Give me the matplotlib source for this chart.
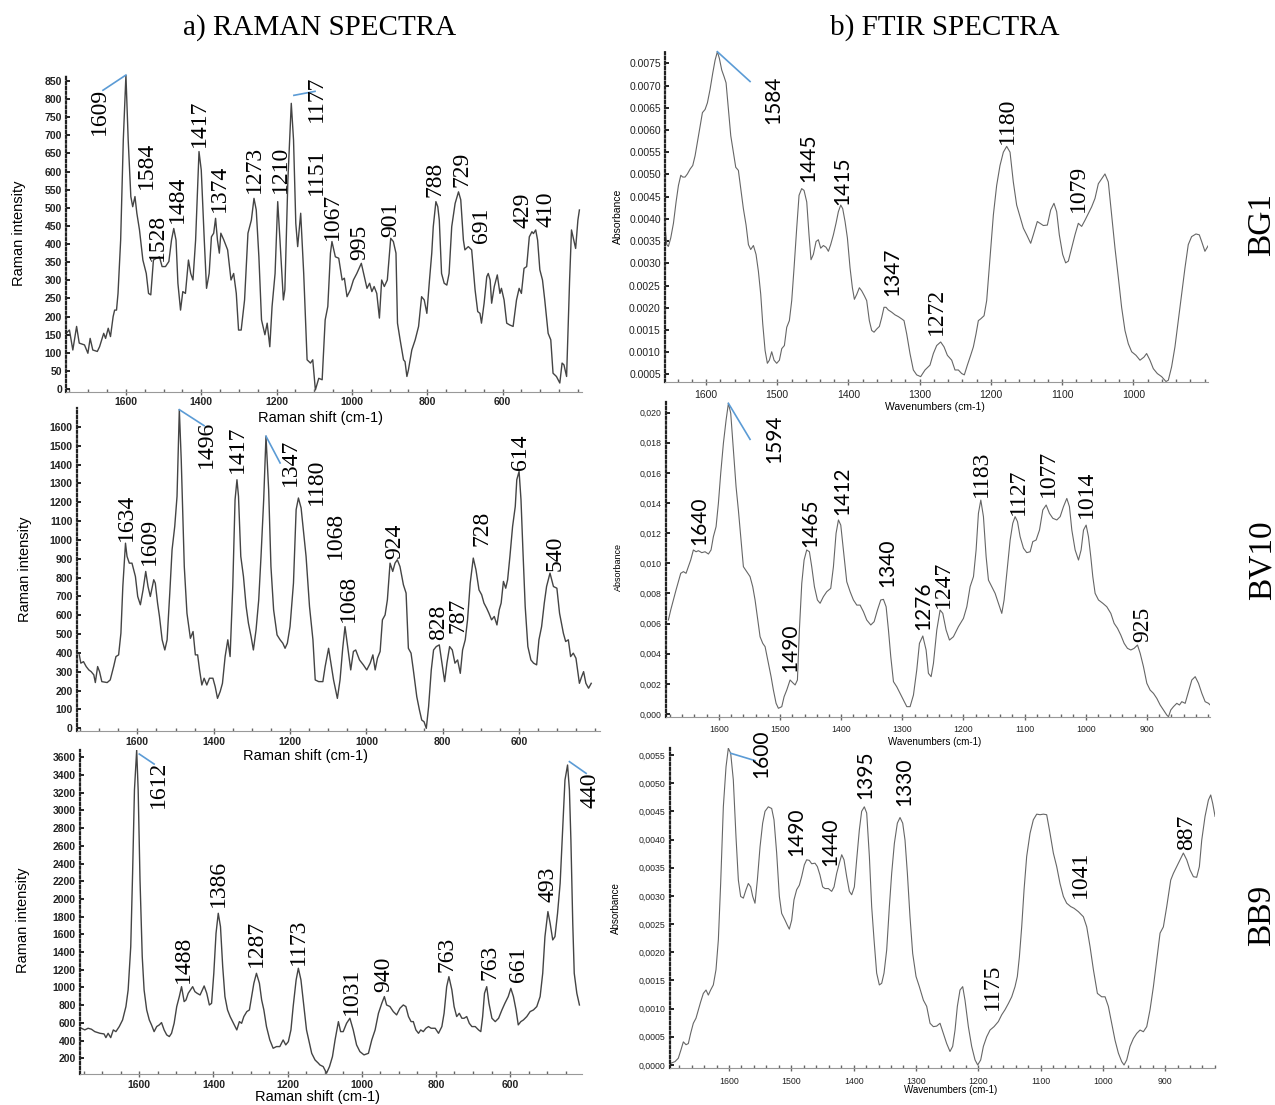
import matplotlib
matplotlib.use("Agg")
import matplotlib.pyplot as plt
from matplotlib.ticker import FixedLocator, MultipleLocator, FuncFormatter

# ---- Raman BG1 : (shift cm-1, intensity)
raman_bg1 = [(1759,154),(1750,163),(1741,108),(1731,173),(1724,127),(1710,122),(1701,99),(1695,140),(1688,108),(1676,104),
    (1670,117),(1659,154),(1654,140),(1647,168),(1641,145),(1634,200),(1630,218),(1625,218),(1621,264),(1614,411),
    (1607,687),(1600,866),(1594,687),(1587,531),(1582,503),(1576,531),(1571,485),(1564,439),(1555,356),(1546,319),
    (1540,264),(1534,260),(1527,356),(1519,361),(1511,365),(1504,338),(1495,338),(1486,352),(1479,411),(1473,443),
    (1467,411),(1462,292),(1455,218),(1449,269),(1442,264),(1434,356),(1428,319),(1422,301),(1415,411),(1406,655),
    (1400,604),(1392,411),(1386,278),(1379,319),(1373,420),(1367,430),(1362,471),(1357,411),(1352,375),(1348,430),
    (1340,411),(1330,384),(1321,301),(1314,319),(1307,264),(1301,163),(1294,163),(1285,246),(1276,430),(1267,466),
    (1260,526),(1254,494),(1247,365),(1240,191),(1231,150),(1225,182),(1218,117),(1212,228),(1204,319),(1197,517),
    (1191,411),(1182,246),(1178,274),(1170,577),(1161,788),(1155,687),(1149,457),(1144,393),(1136,485),(1128,319),
    (1119,81),(1110,72),(1104,81),(1097,-2),(1088,30),(1079,26),(1071,191),(1064,228),(1057,375),(1053,407),
    (1044,365),(1035,361),(1026,301),(1020,306),(1013,255),(1004,274),(996,301),(987,319),(975,347),(967,310),
    (960,278),(953,292),(947,269),(941,283),(934,264),(927,196),(921,301),(914,283),(906,301),(897,416),
    (890,407),(883,375),(879,182),(872,136),(863,81),(859,76),(854,35),(850,53),(841,108),(832,136),
    (823,173),(815,255),(808,246),(801,209),(794,301),(788,375),(784,448),(777,517),(772,503),(768,466),
    (762,319),(755,292),(748,287),(742,319),(735,448),(726,512),(717,544),(711,522),(704,411),(700,384),
    (691,393),(682,384),(673,274),(666,214),(660,209),(656,182),(649,237),(642,310),(638,319),(633,301),
    (629,237),(622,283),(614,315),(607,264),(603,278),(596,246),(589,182),(581,177),(572,173),(563,246),
    (556,278),(550,264),(543,333),(536,338),(529,420),(522,434),(518,429),(512,439),(507,411),(501,329),
    (494,301),(488,246),(479,154),(472,136),(466,44),(457,35),(448,17),(442,72),(437,67),(430,35),
    (422,301),(417,439),(411,411),(406,388),(400,466),(396,494)]
raman_bg1_peaks = [("1609",1670,700),("1584",1545,553),("1528",1516,352),("1484",1464,457),("1417",1406,668),
    ("1374",1352,489),("1273",1258,540),("1210",1191,540),("1177",1093,737),("1151",1093,535),("1067",1053,411),
    ("995",978,356),("901",897,420),("788",779,531),("729",709,558),("691",656,402),("429",545,443),("410",485,448)]
raman_bg1_leaders = [((1600,866),(1661,824)), ((1154,810),(1098,821))]

# ---- Raman BV10
raman_bv10 = [(1752,390),(1748,346),(1741,354),(1734,328),(1727,310),(1721,301),(1714,284),(1710,243),(1704,328),(1699,301),
    (1693,248),(1679,243),(1671,257),(1662,328),(1656,381),(1649,390),(1643,505),(1638,753),(1631,983),(1627,913),
    (1621,877),(1614,877),(1605,806),(1599,700),(1592,656),(1585,735),(1578,833),(1572,753),(1566,700),(1557,789),
    (1553,771),(1547,665),(1542,594),(1535,470),(1528,416),(1522,470),(1515,718),(1509,948),(1502,1072),(1496,1232),
    (1490,1692),(1485,1427),(1477,859),(1470,611),(1461,478),(1454,514),(1448,390),(1442,390),(1437,310),(1431,230),
    (1425,266),(1418,230),(1411,266),(1402,266),(1396,221),(1390,159),(1383,195),(1377,239),(1370,381),(1363,470),
    (1357,381),(1350,753),(1344,1214),(1339,1320),(1335,1232),(1329,913),(1322,806),(1315,647),(1309,558),(1302,487),
    (1296,416),(1289,523),(1282,682),(1276,913),(1269,1214),(1263,1551),(1256,1267),(1250,859),(1243,629),(1234,496),
    (1226,470),(1219,452),(1213,425),(1207,452),(1200,540),(1191,771),(1184,1161),(1178,1223),(1171,1170),(1158,913),
    (1149,647),(1140,470),(1134,257),(1125,248),(1114,248),(1108,328),(1099,425),(1093,346),(1086,257),(1076,159),
    (1069,257),(1062,425),(1056,540),(1049,434),(1041,310),(1034,408),(1028,416),(1018,363),(1008,337),(999,310),
    (990,346),(983,390),(977,310),(971,372),(964,408),(958,576),(951,602),(945,682),(938,877),(931,833),
    (925,877),(919,895),(912,859),(903,762),(896,718),(890,425),(883,399),(877,310),(868,168),(861,97),
    (855,44),(849,35),(843,0),(837,115),(830,310),(824,416),(817,434),(809,443),(802,346),(795,248),
    (789,346),(782,434),(775,416),(768,346),(761,363),(754,292),(748,416),(741,470),(735,576),(728,771),
    (720,904),(713,842),(705,735),(698,709),(692,665),(685,638),(679,611),(672,576),(665,594),(658,549),
    (652,629),(647,665),(641,780),(635,744),(630,789),(624,913),(617,1072),(610,1178),(606,1320),(600,1364),
    (595,1214),(590,948),(584,647),(577,434),(569,363),(562,346),(554,337),(548,470),(541,540),(534,665),
    (528,753),(519,824),(510,753),(501,744),(494,611),(484,505),(478,461),(471,470),(465,381),(458,399),
    (451,372),(442,239),(436,275),(431,301),(425,239),(418,213),(411,239)]
raman_bv10_peaks = [("1634",1629,992),("1609",1569,868),("1496",1420,1382),("1417",1339,1356),("1347",1199,1288),
    ("1180",1130,1187),("1068",1082,898),("1068",1047,567),("924",925,898),("828",810,470),("787",761,505),
    ("728",698,966),("614",597,1373),("540",506,833)]
raman_bv10_leaders = [((1490,1692),(1425,1607)), ((1263,1551),(1226,1409))]

# ---- Raman BB9
raman_bb9 = [(1756,539),(1747,520),(1738,539),(1729,528),(1720,501),(1706,482),(1695,475),(1690,433),(1684,482),(1677,433),
    (1670,520),(1663,501),(1654,558),(1645,633),(1636,784),(1630,972),(1623,1461),(1618,2290),(1613,3231),(1607,3683),
    (1603,3231),(1598,2214),(1592,1348),(1587,972),(1580,746),(1573,633),(1567,577),(1560,501),(1553,558),(1546,577),
    (1540,603),(1533,520),(1526,464),(1519,445),(1513,482),(1506,595),(1499,784),(1492,897),(1486,1009),(1479,840),
    (1474,859),(1468,934),(1462,972),(1456,1009),(1450,953),(1444,934),(1436,915),(1430,972),(1425,1017),(1418,934),
    (1411,802),(1405,821),(1399,1160),(1393,1612),(1387,1838),(1381,1687),(1375,1235),(1369,897),(1362,746),(1355,671),
    (1346,595),(1337,520),(1330,614),(1324,595),(1318,671),(1310,727),(1303,746),(1297,897),(1291,1047),(1284,1160),
    (1276,1047),(1270,859),(1264,746),(1257,558),(1248,407),(1239,313),(1230,332),(1221,332),(1212,407),(1205,351),
    (1198,388),(1191,520),(1185,784),(1177,1085),(1171,1217),(1164,1085),(1156,784),(1149,520),(1141,369),(1135,256),
    (1126,181),(1117,144),(1113,125),(1104,106),(1095,31),(1087,106),(1079,219),(1072,407),(1063,614),(1057,501),
    (1050,501),(1041,595),(1032,652),(1023,520),(1014,351),(1005,275),(994,238),(982,256),(973,407),(964,520),
    (955,708),(946,821),(939,897),(933,802),(924,784),(915,727),(906,690),(897,765),(888,802),(881,784),
    (874,671),(867,614),(861,614),(854,520),(847,482),(841,520),(834,501),(827,539),(820,558),(813,539),
    (802,539),(793,482),(784,558),(778,708),(771,1009),(765,1122),(757,972),(751,784),(744,671),(737,708),
    (730,652),(724,652),(717,671),(710,595),(703,558),(694,558),(685,520),(679,501),(674,671),(669,934),
    (663,1009),(657,821),(649,652),(640,614),(631,652),(622,746),(614,821),(605,897),(598,990),(591,897),
    (584,746),(578,577),(571,614),(564,633),(555,671),(546,727),(537,746),(528,784),(519,897),(512,1160),
    (506,1574),(498,1857),(492,1725),(485,1537),(479,1574),(472,1838),(465,2177),(458,2817),(452,3344),(445,3513),
    (440,3231),(436,2666),(431,1725),(427,1160),(420,934),(413,802)]
raman_bb9_peaks = [("1612",1549,3024),("1488",1481,1047),("1386",1387,1913),("1287",1283,1235),("1173",1171,1254),
    ("1031",1027,689),("940",942,953),("763",769,1179),("763",654,1085),("661",577,1066),("493",497,1970),
    ("440",384,3024)]
raman_bb9_leaders = [((1600,3637),(1560,3524)), ((440,3551),(395,3419))]

# ---- FTIR BG1 : (wavenumber, absorbance)
ftir_bg1 = [(1657.5,0.00379),(1655.2,0.00342),(1652.9,0.00338),(1649.6,0.00357),(1645.8,0.00390),(1642.1,0.00438),
    (1638.8,0.00475),(1635.5,0.00498),(1632.7,0.00494),(1629.5,0.00494),(1626.2,0.00501),(1622.4,0.00512),
    (1618.7,0.00520),(1615.4,0.00542),(1612.2,0.00572),(1608.4,0.00609),(1605.1,0.00639),(1601.4,0.00646),
    (1598.1,0.00661),(1594.4,0.00691),(1590.6,0.00728),(1587.3,0.00757),(1584.1,0.00776),(1581.3,0.00761),
    (1578.0,0.00735),(1574.7,0.00720),(1571.9,0.00706),(1568.6,0.00646),(1565.3,0.00587),(1561.6,0.00550),
    (1558.3,0.00516),(1554.6,0.00509),(1551.3,0.00468),(1547.6,0.00423),(1543.8,0.00386),(1540.5,0.00342),
    (1537.3,0.00331),(1533.5,0.00340),(1529.8,0.00320),(1526.5,0.00282),(1523.2,0.00230),(1520.4,0.00164),
    (1517.1,0.00104),(1513.9,0.00075),(1511.1,0.00082),(1507.8,0.00101),(1504.5,0.00082),(1500.8,0.00075),
    (1497.0,0.00082),(1493.7,0.00108),(1490.0,0.00115),(1486.7,0.00156),(1483.0,0.00171),(1479.7,0.00216),
    (1476.4,0.00290),(1472.7,0.00379),(1469.4,0.00453),(1465.7,0.00468),(1462.4,0.00464),(1458.6,0.00438),
    (1455.4,0.00364),(1452.6,0.00308),(1449.3,0.00320),(1445.5,0.00349),(1442.3,0.00353),(1439.0,0.00334),
    (1435.2,0.00340),(1431.5,0.00336),(1428.2,0.00327),(1425.0,0.00342),(1421.2,0.00364),(1417.5,0.00390),
    (1414.2,0.00416),(1410.9,0.00431),(1408.1,0.00423),(1404.8,0.00394),(1401.5,0.00357),(1397.8,0.00290),
    (1394.5,0.00245),(1391.7,0.00219),(1388.4,0.00230),(1384.7,0.00245),(1381.4,0.00238),(1377.7,0.00227),
    (1374.4,0.00216),(1370.7,0.00171),(1367.4,0.00149),(1364.1,0.00145),(1360.4,0.00152),(1356.6,0.00158),
    (1353.3,0.00178),(1350.1,0.00201),(1347.3,0.00201),(1344.0,0.00195),(1339.3,0.00190),(1334.6,0.00184),
    (1329.9,0.00180),(1325.3,0.00175),(1322.0,0.00171),(1318.2,0.00141),(1313.6,0.00097),(1308.9,0.00060),
    (1304.2,0.00049),(1298.6,0.00045),(1292.5,0.00060),(1285.5,0.00071),(1280.8,0.00097),(1276.1,0.00115),
    (1270.5,0.00123),(1265.8,0.00112),(1261.1,0.00093),(1255.0,0.00082),(1250.4,0.00060),(1245.7,0.00060),
    (1241.0,0.00052),(1237.3,0.00049),(1233.0,0.00071),(1228.4,0.00093),(1224.6,0.00112),(1220.9,0.00141),
    (1217.6,0.00171),(1214.3,0.00175),(1209.6,0.00182),(1205.9,0.00216),(1201.2,0.00312),(1196.5,0.00409),
    (1191.9,0.00475),(1187.2,0.00520),(1182.5,0.00550),(1177.8,0.00563),(1173.1,0.00550),(1168.5,0.00483),
    (1163.8,0.00431),(1159.1,0.00405),(1154.4,0.00379),(1149.7,0.00364),(1144.1,0.00345),(1140.4,0.00364),
    (1134.8,0.00394),(1131.0,0.00390),(1126.3,0.00385),(1120.7,0.00386),(1116.0,0.00420),(1111.4,0.00435),
    (1107.6,0.00416),(1103.9,0.00364),(1099.2,0.00320),(1095.0,0.00301),(1091.2,0.00305),(1086.6,0.00334),
    (1081.9,0.00364),(1077.2,0.00390),(1072.5,0.00383),(1067.8,0.00397),(1063.2,0.00412),(1058.5,0.00427),
    (1053.8,0.00446),(1049.1,0.00479),(1044.4,0.00490),(1039.8,0.00501),(1035.1,0.00483),(1030.4,0.00409),
    (1025.7,0.00334),(1021.0,0.00268),(1016.4,0.00201),(1011.7,0.00149),(1007.0,0.00119),(1002.3,0.00101),
    (996.2,0.00093),(990.6,0.00082),(985.0,0.00089),(981.3,0.00097),(976.6,0.00082),(971.9,0.00063),
    (966.3,0.00052),(960.2,0.00045),(954.1,0.00034),(950.8,0.00037),(946.2,0.00067),(941.5,0.00112),
    (936.8,0.00171),(932.1,0.00230),(927.4,0.00290),(922.8,0.00342),(918.1,0.00360),(912.0,0.00366),
    (907.3,0.00364),(904.0,0.00349),(899.4,0.00327),(894.7,0.00340)]
ftir_bg1_sans = [("1584",1505.4,0.00613),("1445",1456.3,0.00483),("1415",1408.1,0.00431),("1347",1337.9,0.00227)]
ftir_bg1_serif = [("1272",1276,0.00138),("1180",1176.9,0.00568),("1079",1077.2,0.00416)]
ftir_bg1_leaders = [((1584.1,0.00776),(1538.2,0.00709))]

# ---- FTIR BV10
ftir_bv10 = [(1682.7,0.00624),(1678.9,0.00690),(1674.5,0.00757),(1670.2,0.00823),(1666.3,0.00878),(1662.5,0.00934),
    (1658.1,0.00945),(1653.8,0.00934),(1650.0,0.00978),(1646.2,0.01022),(1641.8,0.01089),(1637.4,0.01077),
    (1633.6,0.01084),(1628.1,0.01071),(1622.7,0.01077),(1617.2,0.01062),(1612.9,0.01089),(1609.1,0.01177),
    (1604.7,0.01243),(1600.9,0.01398),(1597.1,0.01597),(1592.7,0.01797),(1588.3,0.01951),(1584.5,0.02062),
    (1580.7,0.01996),(1576.3,0.01752),(1572.0,0.01509),(1568.2,0.01354),(1564.3,0.01177),(1560.0,0.00978),
    (1554.5,0.00945),(1549.1,0.00912),(1544.7,0.00845),(1540.9,0.00757),(1537.1,0.00646),(1532.7,0.00513),
    (1528.3,0.00469),(1524.5,0.00447),(1519.1,0.00336),(1514.7,0.00248),(1510.9,0.00159),(1506.5,0.00071),
    (1502.7,0.00038),(1497.2,0.00049),(1493.4,0.00115),(1489.1,0.00159),(1483.6,0.00226),(1479.3,0.00208),
    (1475.4,0.00193),(1471.6,0.00226),(1468.4,0.00558),(1464.5,0.00867),(1460.7,0.01022),(1456.4,0.01089),
    (1452.0,0.01077),(1448.2,0.00978),(1443.8,0.00845),(1438.9,0.00757),(1434.5,0.00735),(1429.1,0.00779),
    (1423.6,0.00812),(1417.1,0.00834),(1412.7,0.00978),(1408.4,0.01199),(1404.5,0.01288),(1400.7,0.01254),
    (1396.4,0.01089),(1390.9,0.00878),(1385.4,0.00812),(1380.0,0.00757),(1374.5,0.00723),(1369.1,0.00723),
    (1363.6,0.00679),(1358.2,0.00624),(1351.6,0.00591),(1346.1,0.00613),(1340.7,0.00690),(1335.3,0.00757),
    (1330.9,0.00761),(1326.5,0.00712),(1322.7,0.00558),(1318.9,0.00381),(1314.5,0.00215),(1309.1,0.00181),
    (1303.6,0.00137),(1298.2,0.00093),(1292.7,0.00049),(1287.3,0.00049),(1281.8,0.00126),(1276.4,0.00292),
    (1272.0,0.00469),(1266.5,0.00518),(1261.1,0.00425),(1257.3,0.00270),(1252.9,0.00248),(1249.1,0.00336),
    (1243.6,0.00558),(1238.2,0.00690),(1233.8,0.00668),(1228.4,0.00558),(1222.9,0.00491),(1216.4,0.00513),
    (1208.2,0.00580),(1200.0,0.00635),(1194.5,0.00712),(1189.1,0.00845),(1183.6,0.00912),(1179.3,0.01089),
    (1175.5,0.01332),(1171.6,0.01420),(1167.3,0.01310),(1162.9,0.01044),(1159.1,0.00889),(1153.6,0.00845),
    (1148.2,0.00801),(1142.7,0.00735),(1137.3,0.00668),(1133.5,0.00757),(1129.1,0.00934),(1123.6,0.01155),
    (1119.3,0.01266),(1115.5,0.01310),(1111.6,0.01277),(1107.3,0.01177),(1101.8,0.01100),(1096.4,0.01071),
    (1090.9,0.01077),(1086.6,0.01144),(1081.1,0.01155),(1075.6,0.01221),(1070.2,0.01354),(1064.7,0.01387),
    (1059.3,0.01332),(1053.8,0.01299),(1047.3,0.01288),(1041.8,0.01310),(1036.4,0.01376),(1030.9,0.01431),
    (1026.6,0.01376),(1022.7,0.01221),(1017.3,0.01089),(1011.8,0.01022),(1007.5,0.01089),(1003.6,0.01221),
    (999.3,0.01254),(995.5,0.01177),(991.7,0.01044),(988.4,0.00912),(984.6,0.00801),(979.1,0.00757),
    (972.0,0.00735),(965.5,0.00712),(958.9,0.00668),(953.5,0.00602),(948.0,0.00569),(942.6,0.00524),
    (937.1,0.00469),(931.7,0.00436),(926.2,0.00425),(920.8,0.00436),(915.3,0.00458),(910.9,0.00403),
    (905.5,0.00314),(900.0,0.00204),(894.6,0.00159),(889.1,0.00137),(883.7,0.00104),(878.2,0.00060),
    (872.8,0.00027),(867.3,-0.00007),(864.6,-0.00018),(860.8,0.00027),(856.4,0.00049),(851.0,0.00071),
    (846.6,0.00060),(842.8,0.00082),(837.3,0.00071),(831.9,0.00148),(826.4,0.00226),(820.9,0.00248),
    (815.5,0.00204),(810.0,0.00137),(804.6,0.00082),(799.1,0.00071),(796.4,0.00060)]
ftir_bv10_sans = [("1640",1632,0.01122),("1594",1509.8,0.01668),("1490",1482.5,0.00281),("1465",1449.8,0.01111),
    ("1412",1398,0.01321),("1340",1324.4,0.00845),("1276",1265.5,0.00558)]
ftir_bv10_serif = [("1247",1232.7,0.00701),("1183",1170,0.01443),("1127",1110,0.01321),("1077",1061,0.01443),
    ("1014",998.2,0.01299),("925",906.6,0.00480)]
ftir_bv10_leaders = [((1584.5,0.02062),(1549.1,0.01823))]

# ---- FTIR BB9
ftir_bb9 = [(1693.7,0.00003),(1686.7,0.00006),(1681.4,0.00012),(1677.1,0.00027),(1673.3,0.00041),(1669.0,0.00036),
    (1665.3,0.00038),(1661.6,0.00056),(1657.3,0.00074),(1653.0,0.00083),(1649.2,0.00098),(1645.5,0.00112),
    (1641.2,0.00127),(1636.9,0.00133),(1633.2,0.00124),(1629.5,0.00133),(1625.2,0.00142),(1620.9,0.00169),
    (1617.1,0.00222),(1613.4,0.00322),(1609.1,0.00458),(1604.8,0.00529),(1601.1,0.00562),(1597.3,0.00553),
    (1593.1,0.00506),(1588.8,0.00405),(1585.0,0.00328),(1581.3,0.00299),(1577.0,0.00296),(1572.7,0.00311),
    (1569.0,0.00322),(1565.2,0.00316),(1562.0,0.00299),(1558.3,0.00287),(1554.5,0.00328),(1550.2,0.00387),
    (1546.0,0.00429),(1542.2,0.00450),(1536.9,0.00458),(1531.5,0.00455),(1527.8,0.00435),(1523.5,0.00376),
    (1519.2,0.00299),(1515.5,0.00269),(1510.1,0.00257),(1506.4,0.00248),(1503.2,0.00241),(1499.4,0.00257),
    (1495.7,0.00293),(1491.4,0.00311),(1487.1,0.00319),(1483.4,0.00334),(1479.1,0.00355),(1475.4,0.00364),
    (1471.1,0.00363),(1467.3,0.00357),(1462.0,0.00358),(1458.2,0.00352),(1454.0,0.00337),(1449.7,0.00316),
    (1445.9,0.00313),(1440.6,0.00313),(1435.2,0.00308),(1431.4,0.00316),(1427.2,0.00340),(1422.9,0.00358),
    (1419.1,0.00373),(1415.4,0.00364),(1411.1,0.00334),(1406.8,0.00308),(1403.1,0.00302),(1398.8,0.00316),
    (1395.1,0.00364),(1390.8,0.00417),(1387.1,0.00450),(1382.8,0.00458),(1379.0,0.00447),(1374.7,0.00370),
    (1371.0,0.00281),(1367.2,0.00222),(1363.0,0.00163),(1358.7,0.00142),(1354.9,0.00145),(1351.2,0.00163),
    (1346.9,0.00204),(1342.6,0.00281),(1338.9,0.00340),(1334.6,0.00393),(1329.8,0.00429),(1325.5,0.00439),
    (1321.2,0.00429),(1317.5,0.00399),(1313.7,0.00340),(1309.5,0.00263),(1305.2,0.00198),(1299.8,0.00157),
    (1294.5,0.00139),(1288.0,0.00115),(1282.7,0.00104),(1277.3,0.00074),(1272.0,0.00068),(1266.7,0.00069),
    (1261.3,0.00074),(1256.0,0.00056),(1250.6,0.00038),(1245.3,0.00024),(1241.0,0.00033),(1237.2,0.00062),
    (1233.5,0.00104),(1229.2,0.00133),(1224.9,0.00139),(1221.2,0.00115),(1215.8,0.00068),(1210.5,0.00033),
    (1205.1,0.00009),(1200.8,0.00000),(1196.0,0.00009),(1191.7,0.00033),(1186.4,0.00050),(1181.0,0.00062),
    (1174.6,0.00068),(1167.7,0.00077),(1162.3,0.00089),(1157.0,0.00098),(1151.6,0.00109),(1146.2,0.00121),
    (1140.9,0.00139),(1137.2,0.00157),(1133.9,0.00192),(1130.2,0.00245),(1126.4,0.00311),(1122.2,0.00370),
    (1116.8,0.00411),(1111.5,0.00435),(1106.1,0.00445),(1100.8,0.00444),(1095.4,0.00445),(1090.1,0.00444),
    (1084.7,0.00411),(1079.4,0.00376),(1074.0,0.00352),(1068.7,0.00322),(1063.3,0.00299),(1058.0,0.00287),
    (1051.5,0.00281),(1046.2,0.00278),(1039.2,0.00272),(1031.2,0.00263),(1025.8,0.00245),(1020.5,0.00210),
    (1015.1,0.00169),(1008.7,0.00127),(1001.8,0.00121),(996.4,0.00121),(991.1,0.00104),(985.7,0.00074),
    (980.4,0.00044),(975.0,0.00021),(969.7,0.00006),(965.9,0.00000),(961.6,0.00009),(956.3,0.00033),
    (950.9,0.00047),(945.6,0.00056),(940.2,0.00062),(934.9,0.00059),(929.5,0.00068),(924.2,0.00098),
    (918.8,0.00139),(913.5,0.00186),(908.1,0.00234),(902.8,0.00245),(897.4,0.00281),(891.0,0.00328),
    (886.7,0.00340),(881.4,0.00352),(876.0,0.00364),(870.7,0.00376),(865.3,0.00364),(860.0,0.00346),
    (854.6,0.00334),(849.3,0.00333),(845.0,0.00352),(841.2,0.00399),(835.9,0.00441),(830.5,0.00470),
    (826.8,0.00479),(823.6,0.00464),(819.8,0.00441)]
ftir_bb9_sans = [("1600",1547.6,0.00509),("1490",1491.4,0.00370),("1440",1437.9,0.00353),("1395",1381.7,0.00471),
    ("1330",1319.1,0.00460)]
ftir_bb9_serif = [("1175",1176.7,0.00098),("1041",1035.5,0.00296),("887",865.3,0.00382)]
ftir_bb9_leaders = [((1597.3,0.00553),(1558.3,0.00540))]

raman_xticks = [1600, 1400, 1200, 1000, 800, 600]
ftir_xticks_a = [1600, 1500, 1400, 1300, 1200, 1100, 1000]
ftir_xticks_b = [1600, 1500, 1400, 1300, 1200, 1100, 1000, 900]

SERIF = ["Liberation Serif", "DejaVu Serif"]
SANS = ["Liberation Sans", "DejaVu Sans"]
THIN = ["Lato", "DejaVu Sans"]
BLUE = "#5b9bd5"

fig = plt.figure(figsize=(12.75, 11.05), dpi=100)


def panel(rect, pts, xlim, ylim, xticks, yticks, yfmt, minor, raman, tsize):
    ax = fig.add_axes(rect)
    ax.patch.set_alpha(0)
    xs = [p[0] for p in pts]
    ys = [p[1] for p in pts]
    ax.plot(xs, ys, color="#444" if raman else "#666", lw=1.0 if raman else 0.8)
    ax.set_xlim(*xlim)
    ax.set_ylim(*ylim)
    for s in ("top", "right"):
        ax.spines[s].set_visible(False)
    ax.spines["left"].set_linestyle((0, (1, 1.2)))
    ax.spines["left"].set_linewidth(1.6)
    ax.spines["left"].set_color("#222")
    ax.spines["bottom"].set_color("#999")
    ax.xaxis.set_major_locator(FixedLocator(xticks))
    ax.xaxis.set_minor_locator(MultipleLocator(minor))
    ax.yaxis.set_major_locator(FixedLocator(yticks))
    ax.yaxis.set_major_formatter(FuncFormatter(yfmt))
    ax.tick_params(axis="y", direction="in", length=3, width=1.2, pad=3,
                   labelsize=tsize, labelcolor="#222")
    ax.tick_params(axis="x", which="major", direction="inout", length=4, width=1,
                   color="#666", pad=2 if raman else 4, labelsize=tsize, labelcolor="#222")
    ax.tick_params(axis="x", which="minor", direction="in", length=2.5, width=1, color="#666")
    for lab in ax.get_xticklabels() + ax.get_yticklabels():
        lab.set_family(SANS)
        if raman:
            lab.set_fontweight("bold")
    return ax


def peaks(ax, labels, fam, size):
    for txt, x, y in labels:
        ax.text(x, y, txt, rotation=90, ha="center", va="bottom", fontsize=size,
                family=fam, color="black", clip_on=False)


def leaders(ax, segs):
    for (x0, y0), (x1, y1) in segs:
        ax.plot([x0, x1], [y0, y1], color=BLUE, lw=1.2, clip_on=False)


def plain(v, p):
    return "%d" % v


# ---- left column: Raman
ax1 = panel([0.0518, 0.6455, 0.4047, 0.2866], raman_bg1, (1759, 389), (-7, 866),
            raman_xticks, list(range(0, 851, 50)), plain, 50, True, 7.5)
peaks(ax1, raman_bg1_peaks, SERIF, 17)
leaders(ax1, raman_bg1_leaders)
ax1.set_ylabel("Raman intensity", family=SANS, fontsize=10.5)
ax1.yaxis.set_label_coords(-0.078, 0.5)
ax1.set_xlabel("Raman shift (cm-1)", family=SANS, fontsize=10.5)
ax1.xaxis.set_label_coords(0.494, -0.061)

ax2 = panel([0.0604, 0.3385, 0.4102, 0.2923], raman_bv10, (1758, 388), (-14, 1701),
            raman_xticks, list(range(0, 1601, 100)), plain, 50, True, 7.5)
peaks(ax2, raman_bv10_peaks, SERIF, 17)
leaders(ax2, raman_bv10_leaders)
ax2.set_ylabel("Raman intensity", family=SANS, fontsize=10.5)
ax2.yaxis.set_label_coords(-0.086, 0.5)
ax2.set_xlabel("Raman shift (cm-1)", family=SANS, fontsize=10.5)
ax2.xaxis.set_label_coords(0.436, -0.056)

ax3 = panel([0.0627, 0.0278, 0.3935, 0.2935], raman_bb9, (1760, 407), (19, 3683),
            raman_xticks, list(range(200, 3601, 200)), plain, 50, True, 7.5)
peaks(ax3, raman_bb9_peaks, SERIF, 17)
leaders(ax3, raman_bb9_leaders)
ax3.set_ylabel("Raman intensity", family=SANS, fontsize=10.5)
ax3.yaxis.set_label_coords(-0.100, 0.475)
ax3.set_xlabel("Raman shift (cm-1)", family=SANS, fontsize=10.5)
ax3.xaxis.set_label_coords(0.474, -0.05)

# ---- right column: FTIR
ax4 = panel([0.5216, 0.6546, 0.4259, 0.3002], ftir_bg1, (1657.6, 895), (0.000337, 0.0078),
            ftir_xticks_a, [i * 0.0005 for i in range(1, 16)], lambda v, p: "%.4f" % v, 20, False, 7.5)
peaks(ax4, ftir_bg1_sans, THIN, 15)
peaks(ax4, ftir_bg1_serif, SERIF, 17)
leaders(ax4, ftir_bg1_leaders)
ax4.set_ylabel("Absorbance", family=SANS, fontsize=7.5)
ax4.yaxis.set_label_coords(-0.077, 0.497)
ax4.set_xlabel("Wavenumbers (cm-1)", family=SANS, fontsize=7.5)
ax4.xaxis.set_label_coords(0.497, -0.061)

ax5 = panel([0.5224, 0.3514, 0.4267, 0.2851], ftir_bv10, (1686.5, 796.5), (-0.000177, 0.02073),
            ftir_xticks_b, [i * 0.002 for i in range(0, 11)],
            lambda v, p: ("%.3f" % v).replace(".", ","), 20, False, 6.3)
peaks(ax5, ftir_bv10_sans, THIN, 15)
peaks(ax5, ftir_bv10_serif, SERIF, 17)
leaders(ax5, ftir_bv10_leaders)
ax5.set_ylabel("Absorbance", family=SANS, fontsize=6.5)
ax5.yaxis.set_label_coords(-0.079, 0.475)
ax5.set_xlabel("Wavenumbers (cm-1)", family=SANS, fontsize=7)
ax5.xaxis.set_label_coords(0.494, -0.064)

ax6 = panel([0.5255, 0.0332, 0.4275, 0.2896], ftir_bb9, (1694.7, 819.8), (-0.000059, 0.005618),
            ftir_xticks_b, [i * 0.0005 for i in range(0, 12)],
            lambda v, p: ("%.4f" % v).replace(".", ","), 20, False, 6.3)
peaks(ax6, ftir_bb9_sans, THIN, 15)
peaks(ax6, ftir_bb9_serif, SERIF, 17)
leaders(ax6, ftir_bb9_leaders)
ax6.set_ylabel("Absorbance", family=SANS, fontsize=7)
ax6.yaxis.set_label_coords(-0.090, 0.5)
ax6.set_xlabel("Wavenumbers (cm-1)", family=SANS, fontsize=7)
ax6.xaxis.set_label_coords(0.514, -0.052)

# ---- titles and sample names
fig.text(0.251, 0.9747, "a) RAMAN SPECTRA", family=SERIF, fontsize=21, ha="center", va="center")
fig.text(0.741, 0.9747, "b) FTIR SPECTRA", family=SERIF, fontsize=21, ha="center", va="center")
for name, yy in (("BG1", 0.7964), ("BV10", 0.4932), ("BB9", 0.172)):
    fig.text(0.99, yy, name, family=SERIF, fontsize=24, rotation=90, ha="center", va="center")

fig.savefig("out.png", dpi=100)
